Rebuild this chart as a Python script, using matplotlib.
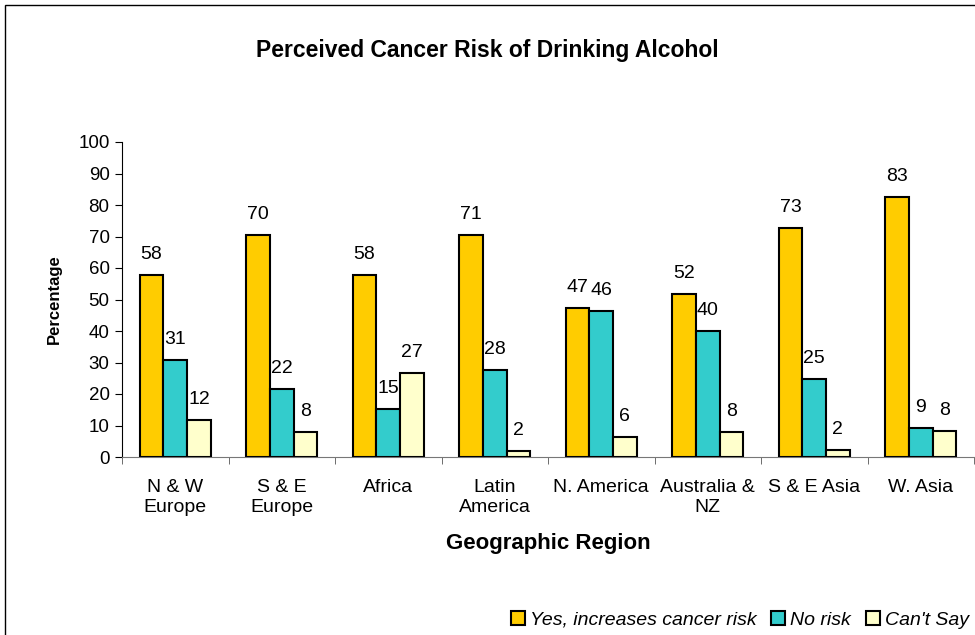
import matplotlib.pyplot as plt
from matplotlib.patches import Rectangle
import numpy as np

plt.rcParams['font.family'] = ['Liberation Sans', 'DejaVu Sans']

regions = ["N & W\nEurope", "S & E\nEurope", "Africa", "Latin\nAmerica",
           "N. America", "Australia &\nNZ", "S & E Asia", "W. Asia"]
yes_risk = [57.8, 70.5, 57.7, 70.6, 47.3, 51.7, 72.8, 82.6]
no_risk = [30.7, 21.6, 15.3, 27.5, 46.4, 40.0, 24.9, 9.2]
cant_say = [11.6, 8.0, 26.8, 1.9, 6.5, 8.0, 2.1, 8.3]
series_names = ["Yes, increases cancer risk", "No risk", "Can't Say"]
colors = ["#FFCC00", "#33CCCC", "#FFFFCC"]

fig = plt.figure(figsize=(9.75, 6.35), dpi=100)
ax = fig.add_axes([122 / 975, 1 - 457 / 635, (974 - 122) / 975, 315 / 635])

# outer chart frame
fig.patches.append(Rectangle((5 / 975, -0.01), 1.0, 1 - 5 / 635 + 0.01,
                             transform=fig.transFigure, fill=False,
                             edgecolor='black', lw=1.0))

x = np.arange(len(regions))
w = 1 / 4.5
handles = []
for i, (vals, c) in enumerate(zip([yes_risk, no_risk, cant_say], colors)):
    bars = ax.bar(x + (i - 1) * w, vals, width=w, color=c, edgecolor='black',
                  linewidth=1.5, label=series_names[i], zorder=3)
    handles.append(bars)
    for b, v in zip(bars, vals):
        ax.annotate(f"{round(v)}", (b.get_x() + b.get_width() / 2, v),
                    xytext=(0, 11.5), textcoords='offset points',
                    ha='center', va='baseline', fontsize=14)

ax.set_xlim(-0.5, len(regions) - 0.5)
ax.set_ylim(0, 100)
ax.set_yticks(range(0, 101, 10))
ax.set_xticks(x)
ax.set_xticklabels(regions, fontsize=14, va='top', linespacing=1.25)
ax.set_xticks(np.arange(-0.5, len(regions)), minor=True)
ax.tick_params(axis='x', which='major', length=0, pad=16)
ax.tick_params(axis='x', which='minor', length=5, direction='out', color='#555555')
ax.tick_params(axis='y', labelsize=13.5, length=5, direction='out', pad=4)

for s in ['top', 'right']:
    ax.spines[s].set_visible(False)
ax.spines['bottom'].set_color('#777777')

ax.set_ylabel("Percentage", fontsize=12, fontweight='bold', labelpad=12)
ax.set_xlabel("Geographic Region", fontsize=16, fontweight='bold', labelpad=12)

fig.text(0.5, 1 - 50 / 635, "Perceived Cancer Risk of Drinking Alcohol",
         ha='center', va='center', fontsize=16.5, fontweight='bold')

leg = fig.legend(handles=handles, loc='center right', bbox_to_anchor=(1.012, 1 - 620 / 635),
                 ncol=3, frameon=False, prop={'style': 'italic', 'size': 14},
                 handlelength=0.72, handleheight=0.72, handletextpad=0.26,
                 columnspacing=0.77)

fig.savefig("out.png", dpi=100)
